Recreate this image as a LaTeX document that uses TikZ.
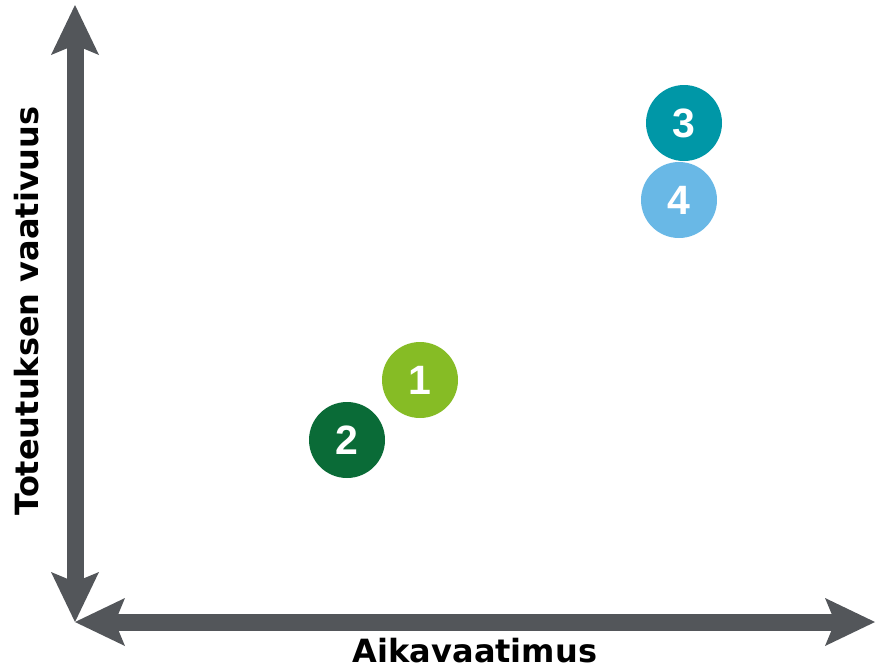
\documentclass[tikz,border=0pt]{standalone}
\usepackage{fontspec}
\setmainfont{DejaVu Sans}
\newfontfamily\digitfont{Liberation Sans}
\usetikzlibrary{arrows.meta}
\definecolor{axisgray}{HTML}{53565A}
\definecolor{cone}{HTML}{86BC25}
\definecolor{ctwo}{HTML}{0A6B37}
\definecolor{cthree}{HTML}{0097A7}
\definecolor{cfour}{HTML}{69B8E6}
\tikzset{
  axistip/.tip={Stealth[length=50pt,width=48pt,inset=10pt,line width=0pt]},
  axis/.style={draw=axisgray, line width=17pt, axistip-axistip},
  dot/.style={circle, minimum size=76pt, inner sep=0pt, text=white,
    font=\digitfont\bfseries\fontsize{41}{41}\selectfont},
  axislabel/.style={font=\bfseries\fontsize{32}{32}\selectfont, text=black, inner sep=0pt}
}
\begin{document}
\begin{tikzpicture}[x=1pt,y=-1pt]
\useasboundingbox (0,0) rectangle (877,667);
\coordinate (top) at (75,5);
\coordinate (origin) at (75,622);
\coordinate (right) at (875,622);
\draw[axis] (top) -- (origin);
\draw[axis] (origin) -- (right);
\node[dot, fill=cone] (n1) at (420,380) {1};
\node[dot, fill=ctwo] (n2) at (347,440) {2};
\node[dot, fill=cthree] (n3) at (684,123) {3};
\node[dot, fill=cfour] (n4) at (679,200) {4};
\node[axislabel, anchor=base] (xl) at (475,662) {Aikavaatimus};
\node[axislabel, anchor=base, rotate=90] (yl) at (38,311) {Toteutuksen vaativuus};
\end{tikzpicture}
\end{document}
